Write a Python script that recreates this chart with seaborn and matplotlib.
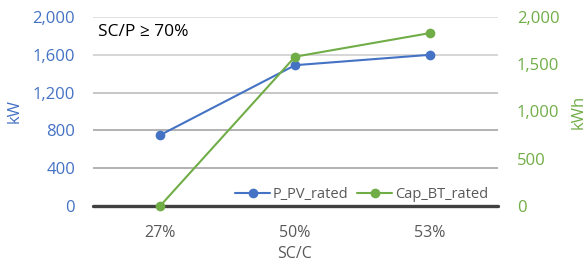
import pandas as pd
import seaborn as sns
import matplotlib.pyplot as plt
from matplotlib.lines import Line2D

categories = ['27%', '50%', '53%']
p_pv_rated = [750, 1490, 1600]
cap_bt_rated = [0, 1580, 1830]

df = pd.DataFrame({'SC/C': categories, 'P_PV_rated': p_pv_rated, 'Cap_BT_rated': cap_bt_rated})
df['pos'] = range(len(categories))

sns.set_style("white")
plt.rcParams['font.family'] = ['Open Sans', 'DejaVu Sans']

blue = '#4472C4'
green = '#70AD47'
grey = '#595959'

fig = plt.figure(figsize=(5.86, 2.66), dpi=100)
ax = fig.add_axes([0.158, 0.2256, 0.691, 0.7105])
ax2 = ax.twinx()

# gridlines, lighter at the top as in the original
grid_cols = ['#d9d9d9', '#d0d0d0', '#bdbdbd', '#a6a6a6', '#a6a6a6']
for v, c in zip([2000, 1600, 1200, 800, 400], grid_cols):
    ax.axhline(v, color=c, lw=1.2, zorder=0)
ax.axhline(0, color='#404040', lw=2.4, zorder=1, clip_on=False)

sns.lineplot(data=df, x='pos', y='P_PV_rated', ax=ax, color=blue, marker='o',
             markersize=7, markeredgewidth=0, lw=1.5, legend=False, clip_on=False)
sns.lineplot(data=df, x='pos', y='Cap_BT_rated', ax=ax2, color=green, marker='o',
             markersize=7, markeredgewidth=0, lw=1.5, legend=False, clip_on=False)

ax.set_xlim(-0.5, 2.5)
ax.set_ylim(0, 2000)
ax2.set_ylim(0, 2000)
ax.set_xticks(df['pos'])
ax.set_xticklabels(categories, color=grey, fontsize=11.5)
ax.set_yticks([0, 400, 800, 1200, 1600, 2000])
ax.set_yticklabels([f'{v:,}' for v in [0, 400, 800, 1200, 1600, 2000]], color=blue, fontsize=12)
ax2.set_yticks([0, 500, 1000, 1500, 2000])
ax2.set_yticklabels([f'{v:,}' for v in [0, 500, 1000, 1500, 2000]], color=green, fontsize=12)
ax.tick_params(axis='both', length=0)
ax.tick_params(axis='y', pad=12.5)
ax.tick_params(axis='x', pad=14)
ax2.tick_params(axis='y', length=0, pad=14)

ax.set_xlabel('SC/C', color=grey, fontsize=11.5, labelpad=3)
ax.set_ylabel('kW', color=blue, fontsize=12)
ax2.set_ylabel('kWh', color=green, fontsize=12)
ax.yaxis.set_label_coords(-0.172, 0.5)
ax2.yaxis.set_label_coords(1.181, 0.5)

for a in (ax, ax2):
    for s in a.spines.values():
        s.set_visible(False)

ax.text(0.013, 0.965, 'SC/P ≥ 70%', transform=ax.transAxes, fontsize=12.5,
        color='black', va='top', ha='left')

handles = [Line2D([], [], color=blue, marker='o', markersize=7, markeredgewidth=0, lw=1.5),
           Line2D([], [], color=green, marker='o', markersize=7, markeredgewidth=0, lw=1.5)]
leg = ax2.legend(handles, ['P_PV_rated', 'Cap_BT_rated'], loc='lower right',
                 bbox_to_anchor=(1.01, -0.05), ncol=2, frameon=False, fontsize=10.5,
                 handlelength=2.4, handletextpad=0.2, columnspacing=0.6)
for t in leg.get_texts():
    t.set_color(grey)

fig.savefig('out.png', dpi=100)
